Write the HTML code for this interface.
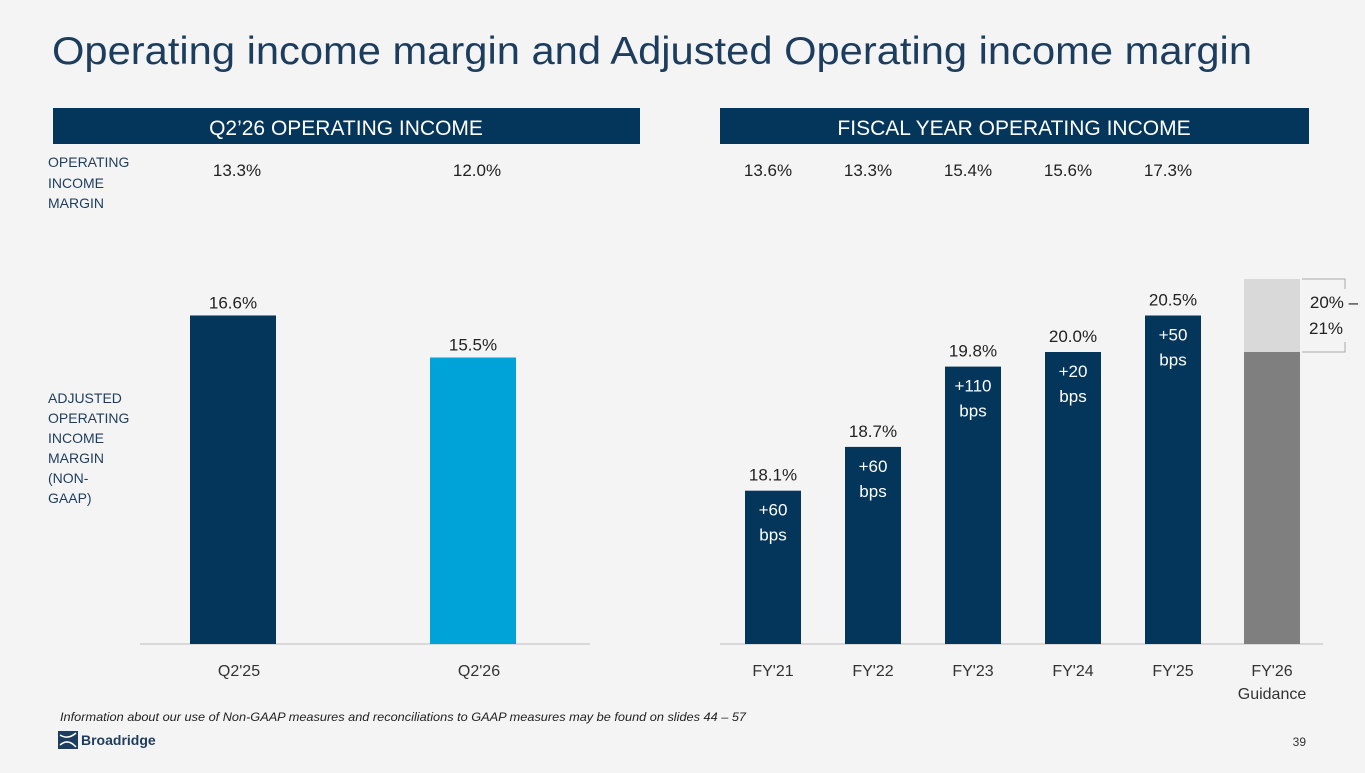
<!DOCTYPE html>
<html><head><meta charset="utf-8"><style>
body{margin:0;width:1365px;height:768px;background:#f4f4f4;font-family:"Liberation Sans",sans-serif;overflow:hidden}
svg text{font-family:"Liberation Sans",sans-serif}
</style></head><body>
<svg width="1365" height="768" viewBox="0 0 1365 768">
<text x="52" y="64" font-size="39" fill="#1d3d5e" textLength="1200" lengthAdjust="spacingAndGlyphs">Operating income margin and Adjusted Operating income margin</text>
<rect x="53" y="108" width="587" height="36" fill="#04355a"/>
<text x="346" y="135" font-size="21" fill="#fff" text-anchor="middle">Q2’26 OPERATING INCOME</text>
<rect x="720" y="108" width="589" height="36" fill="#04355a"/>
<text x="1014" y="135" font-size="21" fill="#fff" text-anchor="middle">FISCAL YEAR OPERATING INCOME</text>
<g font-size="14" fill="#1d3d5e">
<text x="48" y="167">OPERATING</text><text x="48" y="188">INCOME</text><text x="48" y="208">MARGIN</text></g>
<g font-size="14" fill="#1d3d5e">
<text x="48" y="403">ADJUSTED</text><text x="48" y="423">OPERATING</text><text x="48" y="443">INCOME</text><text x="48" y="463">MARGIN</text><text x="48" y="483">(NON-</text><text x="48" y="503">GAAP)</text></g>
<g id="chart"></g>
<text x="60" y="721" font-size="12" font-style="italic" fill="#222" textLength="686" lengthAdjust="spacingAndGlyphs">Information about our use of Non-GAAP measures and reconciliations to GAAP measures may be found on slides 44 – 57</text>
<g>
<rect x="58" y="731" width="20" height="18" fill="#1d3d5e"/>
<path d="M60 735 Q68 740 76 733 M60 745 Q68 738 76 747" stroke="#fff" stroke-width="1.5" fill="none"/>
<text x="81" y="745" font-size="14" font-weight="bold" fill="#1d3d5e">Broadridge</text></g>
<text x="1306" y="746" font-size="12" fill="#333" text-anchor="end">39</text>
</svg>
<script>
const qCats=["Q2'25","Q2'26"];
const qAdj=[16.6,15.5];
const qOp=["13.3%","12.0%"];
const fyCats=["FY'21","FY'22","FY'23","FY'24","FY'25"];
const fyAdj=[18.1,18.7,19.8,20.0,20.5];
const fyOp=["13.6%","13.3%","15.4%","15.6%","17.3%"];
const fyBps=["+60","+60","+110","+20","+50"];
const guideLow=20,guideHigh=21;
const NS="http://www.w3.org/2000/svg",g=document.getElementById('chart');
function mk(t,a,txt){const e=document.createElementNS(NS,t);for(const k in a)e.setAttribute(k,a[k]);if(txt!=null)e.textContent=txt;g.appendChild(e);return e;}
const base=644;
const yL=v=>base-(v-8.0)*38.2;
const yR=v=>base-(v-16.0)*73;
let e=mk('line',{x1:140,x2:590,y1:base,y2:base,stroke:'#bbb'});

e=mk('line',{x1:720,x2:1323,y1:base,y2:base,stroke:'#bbb'});

const qCol=["#04355a","#00a3d8"];
qCats.forEach((c,i)=>{const cx=233+i*240;
 e=mk('rect',{x:cx-43,y:yL(qAdj[i]),width:86,height:base-yL(qAdj[i]),fill:qCol[i]});
 
 e=mk('text',{x:cx,y:yL(qAdj[i])-7,'font-size':17,fill:'#222','text-anchor':'middle'},qAdj[i].toFixed(1)+'%');
 
 e=mk('text',{x:cx+6,y:676,'font-size':16,fill:'#333','text-anchor':'middle'},c);
 
 e=mk('text',{x:cx+4,y:176,'font-size':17,fill:'#222','text-anchor':'middle'},qOp[i]);
 
});
fyCats.forEach((c,i)=>{const cx=773+i*100,t=yR(fyAdj[i]);
 e=mk('rect',{x:cx-28,y:t,width:56,height:base-t,fill:'#04355a'});
 
 e=mk('text',{x:cx,y:t-10,'font-size':17,fill:'#222','text-anchor':'middle'},fyAdj[i].toFixed(1)+'%');
 
 e=mk('text',{x:cx,y:t+25,'font-size':17,fill:'#fff','text-anchor':'middle'},fyBps[i]);
 
 e=mk('text',{x:cx,y:t+50,'font-size':17,fill:'#fff','text-anchor':'middle'},'bps');
 
 e=mk('text',{x:cx,y:676,'font-size':16,fill:'#333','text-anchor':'middle'},c);
 
 e=mk('text',{x:cx-5,y:176,'font-size':17,fill:'#222','text-anchor':'middle'},fyOp[i]);
 
});
const gx=1272;
e=mk('rect',{x:gx-28,y:yR(guideLow),width:56,height:base-yR(guideLow),fill:'#7f7f7f'});

e=mk('rect',{x:gx-28,y:yR(guideHigh),width:56,height:yR(guideLow)-yR(guideHigh),fill:'#d9d9d9'});

e=mk('path',{d:`M1302 ${yR(guideHigh)} H1345 V${yR(guideHigh)+10} M1302 ${yR(guideLow)} H1345 V${yR(guideLow)-10}`,stroke:'#aaa',fill:'none'});

e=mk('text',{x:1334,y:308,'font-size':17,fill:'#222','text-anchor':'middle'},'20% –');

e=mk('text',{x:1326,y:334,'font-size':17,fill:'#222','text-anchor':'middle'},'21%');

e=mk('text',{x:gx,y:676,'font-size':16,fill:'#333','text-anchor':'middle'},"FY'26");

e=mk('text',{x:gx,y:699,'font-size':16,fill:'#333','text-anchor':'middle'},'Guidance');

</script>
</body></html>
